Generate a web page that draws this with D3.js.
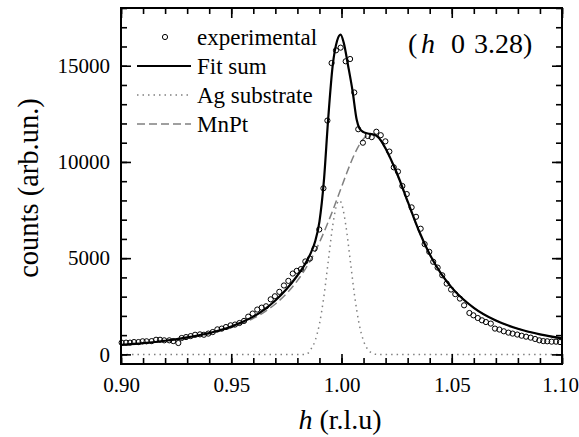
<!DOCTYPE html>
<html>
<head>
<meta charset="utf-8">
<script src="https://cdn.jsdelivr.net/npm/d3@7"></script>
<style>
  body { margin: 0; background: #fff; }
  text { font-family: "Liberation Serif", "Times New Roman", serif; fill: #000; }
</style>
</head>
<body>
<div id="chart"></div>
<script>
/* DATA */

// experimental points: h (r.l.u) and counts
const expH = [0.9003, 0.9023, 0.9041, 0.9059, 0.9079, 0.9098, 0.9116, 0.9139, 0.9159, 0.9177,
  0.9196, 0.9219, 0.9237, 0.9260, 0.9275, 0.9295, 0.9316, 0.9336, 0.9358, 0.9376,
  0.9396, 0.9416, 0.9437, 0.9457, 0.9476, 0.9497, 0.9517, 0.9537, 0.9558, 0.9577,
  0.9597, 0.9618, 0.9638, 0.9658, 0.9679, 0.9698, 0.9718, 0.9739, 0.9759, 0.9779,
  0.9797, 0.9816, 0.9836, 0.9857, 0.9878, 0.9899, 0.9918, 0.9936, 0.9955, 0.9975,
  0.9996, 1.0019, 1.0039, 1.0058, 1.0076, 1.0097, 1.0119, 1.0137, 1.0158, 1.0178,
  1.0199, 1.0217, 1.0237, 1.0256, 1.0276, 1.0296, 1.0318, 1.0338, 1.0359, 1.0377,
  1.0398, 1.0416, 1.0436, 1.0457, 1.0477, 1.0497, 1.0516, 1.0537, 1.0556, 1.0580,
  1.0598, 1.0618, 1.0637, 1.0655, 1.0677, 1.0696, 1.0716, 1.0736, 1.0757, 1.0776,
  1.0797, 1.0817, 1.0837, 1.0858, 1.0878, 1.0897, 1.0915, 1.0933, 1.0953, 1.0973, 1.0991];
const expCounts = [610, 610, 610, 640, 640, 680, 680, 690, 760, 760,
  730, 730, 690, 590, 850, 900, 950, 1020, 1040, 1020,
  1080, 1160, 1300, 1340, 1420, 1510, 1550, 1630, 1740, 1960,
  2120, 2330, 2430, 2500, 2860, 3020, 3250, 3580, 3820, 4200,
  4340, 4430, 4830, 4980, 5500, 6490, 8630, 12150, 15140, 15800,
  15940, 15230, 15350, 13610, 11700, 11000, 11350, 11290, 11570, 11390,
  11070, 10540, 9720, 9500, 8750, 8330, 7640, 7150, 6530, 5730,
  5330, 4810, 4510, 4110, 3680, 3370, 3130, 2900, 2550, 2150,
  2030, 1890, 1770, 1680, 1600, 1340, 1290, 1200, 1130, 1080,
  1030, 970, 920, 870, 800, 730, 690, 680, 660, 660, 640];

// fit sum curve
const fitH = [0.900, 0.910, 0.920, 0.930, 0.940, 0.950, 0.955, 0.960, 0.965, 0.970,
  0.975, 0.980, 0.983, 0.986, 0.988, 0.990, 0.992, 0.994, 0.996, 0.998,
  0.9996, 1.001, 1.003, 1.005, 1.0069, 1.0081, 1.010, 1.012, 1.014, 1.016,
  1.018, 1.020, 1.025, 1.030, 1.035, 1.040, 1.045, 1.050, 1.060, 1.070,
  1.080, 1.090, 1.100];
const fitCounts = [490, 585, 710, 880, 1110, 1450, 1680, 1960, 2330, 2800,
  3380, 4100, 4600, 5250, 5850, 6900, 9000, 12300, 15000, 16300,
  16620, 16200, 15000, 13700, 12190, 11750, 11550, 11480, 11440, 11350,
  11100, 10700, 9450, 7950, 6450, 5200, 4220, 3470, 2420, 1760,
  1330, 1040, 830];

// Ag substrate component
const agH = [0.900, 0.984, 0.986, 0.988, 0.990, 0.992, 0.994, 0.996, 0.998, 0.999,
  1.000, 1.002, 1.004, 1.006, 1.008, 1.010, 1.012, 1.014, 1.016, 1.100];
const agCounts = [0, 0, 250, 700, 1580, 3000, 4850, 6680, 7840, 8000,
  7840, 6680, 4850, 3000, 1580, 700, 250, 60, 0, 0];

// MnPt component
const mnptH = [0.900, 0.910, 0.920, 0.930, 0.940, 0.950, 0.960, 0.965, 0.970, 0.975,
  0.980, 0.983, 0.986, 0.988, 0.990, 0.992, 0.994, 0.996, 0.998, 1.000,
  1.002, 1.004, 1.006, 1.008, 1.010, 1.012, 1.014, 1.016, 1.018, 1.020,
  1.025, 1.030, 1.035, 1.040, 1.045, 1.050, 1.060, 1.070, 1.080, 1.090, 1.100];
const mnptCounts = [470, 560, 680, 840, 1060, 1390, 1870, 2200, 2620, 3150,
  3830, 4330, 4900, 5340, 5820, 6340, 6890, 7470, 8080, 8700,
  9310, 9900, 10430, 10880, 11210, 11400, 11450, 11330, 11060, 10670,
  9400, 7900, 6420, 5180, 4210, 3460, 2420, 1760, 1330, 1040, 830];

const xTicks = [0.90, 0.95, 1.00, 1.05, 1.10];
const xMinorTicks = d3.range(0, 21).map(i => 0.90 + i * 0.01);
const yTicks = [0, 5000, 10000, 15000];
const yMinorTicks = d3.range(0, 19).map(i => i * 1000);
const legendLabels = ["experimental", "Fit sum", "Ag substrate", "MnPt"];

/* LAYOUT */
const width = 579, height = 437;
const mLeft = 121, mRight = 562, mTop = 8, mBottom = 364;

const svg = d3.select("#chart").append("svg")
  .attr("width", width)
  .attr("height", height);

const x = d3.scaleLinear().domain([0.90, 1.10]).range([mLeft, mRight]);
const y = d3.scaleLinear().domain([-500, 18000]).range([mBottom, mTop]);

const toPts = (hs, cs) => hs.map((h, i) => ({ h: h, c: cs[i] }));
const line = d3.line()
  .x(d => x(d.h))
  .y(d => y(d.c))
  .curve(d3.curveMonotoneX);

// component curves
svg.append("path")
  .datum(toPts(mnptH, mnptCounts))
  .attr("d", line)
  .attr("fill", "none")
  .attr("stroke", "#808080")
  .attr("stroke-width", 1.5)
  .attr("stroke-dasharray", "8,4");

svg.append("path")
  .datum(toPts(agH, agCounts))
  .attr("d", line)
  .attr("fill", "none")
  .attr("stroke", "#808080")
  .attr("stroke-width", 1.5)
  .attr("stroke-dasharray", "1.5,4");

// experimental points
svg.append("g").selectAll("circle")
  .data(toPts(expH, expCounts))
  .enter()
    .append("circle")
    .attr("cx", d => x(d.h))
    .attr("cy", d => y(d.c))
    .attr("r", 2.6)
    .attr("fill", "none")
    .attr("stroke", "#000")
    .attr("stroke-width", 1);

// fit sum
svg.append("path")
  .datum(toPts(fitH, fitCounts))
  .attr("d", line)
  .attr("fill", "none")
  .attr("stroke", "#000")
  .attr("stroke-width", 2.2);

/* AXES */
function styleAxis(g) {
  g.select(".domain").remove();
  g.attr("font-family", null);
  g.selectAll("line").attr("stroke", "#000").attr("stroke-width", 1.6);
  g.selectAll("text").style("font-size", "21px")
    .style("font-family", "'Liberation Serif', 'Times New Roman', serif");
}

// bottom
svg.append("g").attr("transform", `translate(0,${mBottom})`)
  .call(d3.axisBottom(x).tickValues(xMinorTicks).tickSize(-6).tickFormat(""))
  .call(styleAxis);
const xAxisG = svg.append("g").attr("transform", `translate(0,${mBottom})`)
  .call(d3.axisBottom(x).tickValues(xTicks).tickSize(-10).tickPadding(13).tickFormat(d3.format(".2f")))
  .call(styleAxis);
// keep the last label inside the window
xAxisG.selectAll("text").filter(d => d === 1.10).attr("dx", -2);
// top (mirror)
svg.append("g").attr("transform", `translate(0,${mTop})`)
  .call(d3.axisTop(x).tickValues(xMinorTicks).tickSize(-6).tickFormat(""))
  .call(styleAxis);
svg.append("g").attr("transform", `translate(0,${mTop})`)
  .call(d3.axisTop(x).tickValues(xTicks).tickSize(-10).tickFormat(""))
  .call(styleAxis);
// left
svg.append("g").attr("transform", `translate(${mLeft},0)`)
  .call(d3.axisLeft(y).tickValues(yMinorTicks).tickSize(-6).tickFormat(""))
  .call(styleAxis);
svg.append("g").attr("transform", `translate(${mLeft},0)`)
  .call(d3.axisLeft(y).tickValues(yTicks).tickSize(-10).tickPadding(11).tickFormat(d3.format("d")))
  .call(styleAxis);
// right (mirror)
svg.append("g").attr("transform", `translate(${mRight},0)`)
  .call(d3.axisRight(y).tickValues(yMinorTicks).tickSize(-6).tickFormat(""))
  .call(styleAxis);
svg.append("g").attr("transform", `translate(${mRight},0)`)
  .call(d3.axisRight(y).tickValues(yTicks).tickSize(-10).tickFormat(""))
  .call(styleAxis);

// frame
svg.append("rect")
  .attr("x", mLeft).attr("y", mTop)
  .attr("width", mRight - mLeft).attr("height", mBottom - mTop)
  .attr("fill", "none")
  .attr("stroke", "#000")
  .attr("stroke-width", 2);

/* TITLES */
const xTitle = svg.append("text")
  .attr("x", 340).attr("y", 429)
  .attr("text-anchor", "middle")
  .style("font-size", "28px");
xTitle.append("tspan").style("font-style", "italic").text("h");
xTitle.append("tspan").text(" (r.l.u)");

svg.append("text")
  .attr("transform", "translate(38,188) rotate(-90)")
  .attr("text-anchor", "middle")
  .style("font-size", "28.5px")
  .text("counts (arb.un.)");

// reflection label
const ann = svg.append("g").style("font-size", "28px");
ann.append("text").attr("x", 408).attr("y", 53).text("(");
ann.append("text").attr("x", 421).attr("y", 53).style("font-style", "italic").text("h");
ann.append("text").attr("x", 451).attr("y", 53).text("0");
ann.append("text").attr("x", 474).attr("y", 53).text("3.28)");

/* LEGEND */
const legendY = [37, 66, 95, 124];
const lg = svg.append("g");
lg.append("circle")
  .attr("cx", 165).attr("cy", legendY[0]).attr("r", 2.6)
  .attr("fill", "none").attr("stroke", "#000").attr("stroke-width", 1);
lg.append("line")
  .attr("x1", 137).attr("x2", 191).attr("y1", legendY[1]).attr("y2", legendY[1])
  .attr("stroke", "#000").attr("stroke-width", 2.2);
lg.append("line")
  .attr("x1", 137).attr("x2", 191).attr("y1", legendY[2]).attr("y2", legendY[2])
  .attr("stroke", "#808080").attr("stroke-width", 1.5).attr("stroke-dasharray", "1.5,4");
lg.append("line")
  .attr("x1", 137).attr("x2", 191).attr("y1", legendY[3]).attr("y2", legendY[3])
  .attr("stroke", "#808080").attr("stroke-width", 1.5).attr("stroke-dasharray", "8,4");
lg.selectAll("text.leg")
  .data(legendLabels)
  .enter()
    .append("text")
    .attr("class", "leg")
    .attr("x", 197)
    .attr("y", (d, i) => legendY[i] + 7.5)
    .style("font-size", "23px")
    .text(d => d);
</script>
</body>
</html>
